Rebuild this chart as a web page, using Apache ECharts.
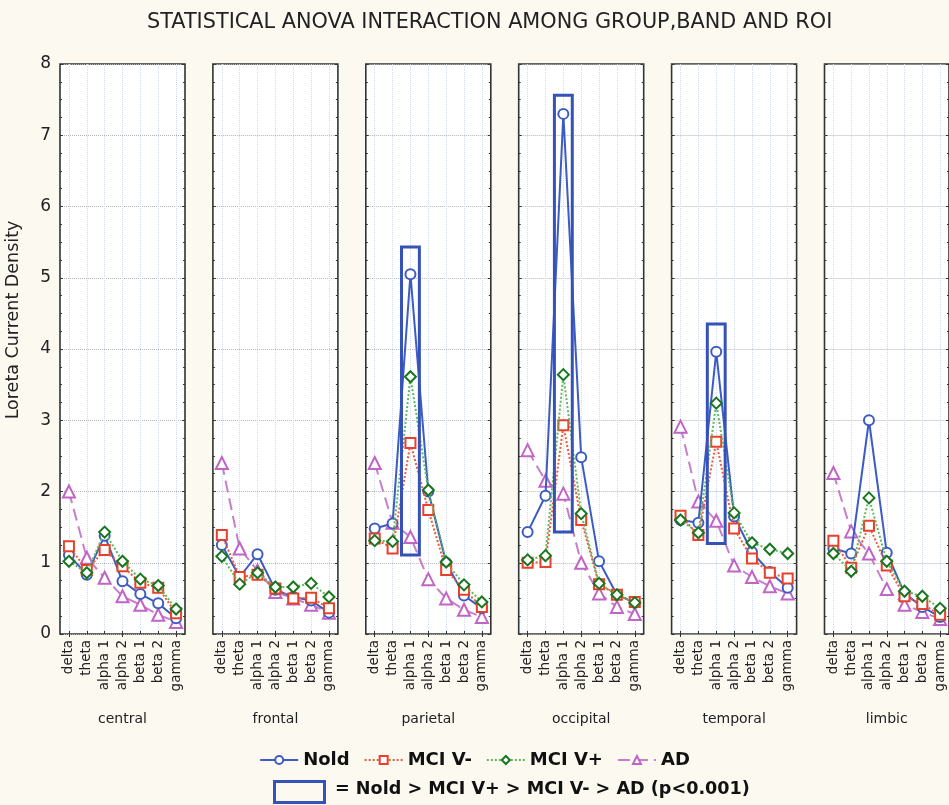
<!DOCTYPE html>
<html>
<head>
<meta charset="utf-8">
<script src="https://cdn.jsdelivr.net/npm/echarts@6/dist/echarts.min.js"></script>
<style>
  html, body { margin: 0; padding: 0; background: #fcfaf0; }
  #chart { width: 949px; height: 805px; }
</style>
</head>
<body>
<div id="chart"></div>
<script>
const categories = ['delta', 'theta', 'alpha 1', 'alpha 2', 'beta 1', 'beta 2', 'gamma'];
const regions = ['central', 'frontal', 'parietal', 'occipital', 'temporal', 'limbic'];
const yMin = 0;
const yMax = 8;

// one row per region, one value per band
const noldValues = [
  [1.11, 0.83, 1.38, 0.74, 0.56, 0.43, 0.22],
  [1.25, 0.80, 1.12, 0.62, 0.52, 0.47, 0.30],
  [1.48, 1.55, 5.05, 2.00, 1.00, 0.54, 0.36],
  [1.43, 1.94, 7.30, 2.48, 1.02, 0.55, 0.44],
  [1.60, 1.56, 3.96, 1.65, 1.15, 0.87, 0.65],
  [1.20, 1.13, 3.00, 1.14, 0.57, 0.38, 0.24]
];
const mciMinusValues = [
  [1.23, 0.90, 1.18, 0.95, 0.72, 0.65, 0.29],
  [1.39, 0.80, 0.83, 0.64, 0.50, 0.51, 0.36],
  [1.34, 1.20, 2.68, 1.74, 0.90, 0.62, 0.38],
  [1.00, 1.01, 2.93, 1.60, 0.70, 0.55, 0.45],
  [1.66, 1.39, 2.70, 1.48, 1.06, 0.86, 0.78],
  [1.31, 0.93, 1.52, 0.96, 0.53, 0.42, 0.27]
];
const mciPlusValues = [
  [1.02, 0.86, 1.43, 1.02, 0.77, 0.68, 0.35],
  [1.09, 0.70, 0.86, 0.66, 0.66, 0.71, 0.52],
  [1.31, 1.30, 3.61, 2.02, 1.01, 0.69, 0.45],
  [1.04, 1.10, 3.64, 1.69, 0.71, 0.55, 0.44],
  [1.60, 1.42, 3.24, 1.70, 1.28, 1.19, 1.13],
  [1.13, 0.88, 1.91, 1.02, 0.60, 0.53, 0.36]
];
const adValues = [
  [2.00, 1.07, 0.79, 0.53, 0.41, 0.27, 0.17],
  [2.40, 1.20, 0.89, 0.59, 0.50, 0.41, 0.30],
  [2.40, 1.56, 1.36, 0.77, 0.50, 0.34, 0.24],
  [2.58, 2.15, 1.97, 1.00, 0.57, 0.38, 0.28],
  [2.91, 1.86, 1.59, 0.96, 0.80, 0.67, 0.57],
  [2.26, 1.44, 1.13, 0.63, 0.41, 0.31, 0.21]
];
// significant boxes: [region index, band, low, high]
const boxes = [
  [2, 'alpha 1', 1.11, 5.43],
  [3, 'alpha 1', 1.43, 7.56],
  [4, 'alpha 1', 1.27, 4.35]
];

const BOX_BLUE = '#3552b8';
const FONT = 'DejaVu Sans';
const groups = [
  { name: 'MCI V+', values: mciPlusValues, color: '#5fb85a', border: '#18761e', symbol: 'diamond', size: 11, line: 'dotted', z: 5 },
  { name: 'MCI V-', values: mciMinusValues, color: '#ee5a3a', border: '#e8402a', symbol: 'rect', size: 10, line: 'dotted', z: 4 },
  { name: 'Nold', values: noldValues, color: '#3d5cc2', border: '#3d5cc2', symbol: 'circle', size: 10, line: 'solid', z: 3 },
  { name: 'AD', values: adValues, color: '#c77fcb', border: '#c064c6', symbol: 'triangle', size: 12, line: [12, 6], z: 2 }
];

const chart = echarts.init(document.getElementById('chart'));
const grids = [], xAxes = [], yAxes = [], series = [];
const left0 = 60, step = 152.9, panelW = 125;

regions.forEach((region, i) => {
  grids.push({
    left: left0 + i * step, top: 64, width: panelW, bottom: 171,
    show: true, backgroundColor: '#ffffff', borderColor: '#2e3532', borderWidth: 1.6
  });
  // bottom category axis (labels + vertical grid)
  xAxes.push({
    type: 'category', gridIndex: i, data: categories, boundaryGap: true,
    axisLine: { show: false },
    axisTick: { show: true, inside: true, alignWithLabel: true, length: 3, lineStyle: { color: '#333' } },
    splitLine: { show: true, alignWithLabel: true, lineStyle: { type: 'dotted', color: '#cddbf0', width: 1 } },
    axisLabel: { rotate: 90, interval: 0, fontSize: 13.5, color: '#222', fontFamily: FONT, margin: 6 },
    name: region, nameLocation: 'middle', nameGap: 78,
    nameTextStyle: { fontSize: 14, color: '#222', fontFamily: FONT }
  });
  // top axis, ticks only
  xAxes.push({
    type: 'category', gridIndex: i, data: categories, position: 'top', boundaryGap: true,
    axisLine: { show: false },
    axisTick: { show: true, inside: true, alignWithLabel: true, length: 3, lineStyle: { color: '#333' } },
    axisLabel: { show: false }, splitLine: { show: false }
  });
  yAxes.push({
    type: 'value', gridIndex: i, min: yMin, max: yMax, interval: 1,
    axisLine: { show: false },
    axisTick: { show: true, inside: true, length: 3, lineStyle: { color: '#333' } },
    minorTick: { show: true, splitNumber: 4, length: 2, lineStyle: { color: '#333' } },
    splitLine: { show: true, lineStyle: { type: 'dotted', color: '#b5b5b5' } },
    axisLabel: { show: i === 0, fontSize: 17, color: '#222', fontFamily: FONT, margin: 9 },
    name: i === 0 ? 'Loreta Current Density' : '', nameLocation: 'middle', nameGap: 38,
    nameTextStyle: { fontSize: 17.5, color: '#222', fontFamily: FONT, padding: [0, 0, 0, 58] }
  });
  yAxes.push({
    type: 'value', gridIndex: i, min: yMin, max: yMax, interval: 1, position: 'right',
    axisLine: { show: false },
    axisTick: { show: true, inside: true, length: 3, lineStyle: { color: '#333' } },
    minorTick: { show: true, splitNumber: 4, length: 2, lineStyle: { color: '#333' } },
    splitLine: { show: false }, axisLabel: { show: false }
  });

  groups.forEach(g => {
    series.push({
      name: g.name, type: 'line', xAxisIndex: i * 2, yAxisIndex: i * 2,
      data: g.values[i], z: g.z,
      symbol: g.symbol, symbolSize: g.size, showAllSymbol: true,
      lineStyle: { color: g.color, width: 2, type: g.line },
      itemStyle: { color: '#ffffff', borderColor: g.border, borderWidth: 2 },
      emphasis: { disabled: true }
    });
  });

  const myBoxes = boxes.filter(b => b[0] === i).map(b => [b[1], b[2], b[3]]);
  if (myBoxes.length) {
    series.push({
      name: 'box', type: 'custom', xAxisIndex: i * 2, yAxisIndex: i * 2, z: 10,
      data: myBoxes,
      encode: { x: 0, y: [1, 2] },
      renderItem: (params, api) => {
        const top = api.coord([api.value(0), api.value(2)]);
        const bottom = api.coord([api.value(0), api.value(1)]);
        const w = api.size([1, 0])[0];
        return {
          type: 'rect',
          shape: { x: top[0] - w / 2, y: top[1], width: w, height: bottom[1] - top[1] },
          style: { fill: 'none', stroke: BOX_BLUE, lineWidth: 3 }
        };
      }
    });
  }
});

chart.setOption({
  backgroundColor: '#fcfaf0',
  animation: false,
  title: {
    text: 'STATISTICAL ANOVA INTERACTION AMONG GROUP,BAND AND ROI',
    left: 142, top: 7,
    textStyle: { fontSize: 20.8, fontWeight: 'normal', color: '#222', fontFamily: FONT }
  },
  legend: {
    data: ['Nold', 'MCI V-', 'MCI V+', 'AD'],
    left: 'center', top: 746, itemWidth: 38, itemHeight: 10, itemGap: 14,
    textStyle: { fontSize: 18, fontWeight: 'bold', color: '#111', fontFamily: FONT }
  },
  graphic: [
    { type: 'rect', left: 272, top: 779, shape: { width: 50, height: 21 },
      style: { fill: 'none', stroke: BOX_BLUE, lineWidth: 3 } },
    { type: 'text', left: 335, top: 780,
      style: { text: '= Nold > MCI V+ > MCI V- > AD (p<0.001)', fontSize: 17.6, fontWeight: 'bold',
               fill: '#111', fontFamily: FONT } }
  ],
  grid: grids,
  xAxis: xAxes,
  yAxis: yAxes,
  series: series
});
</script>
</body>
</html>
